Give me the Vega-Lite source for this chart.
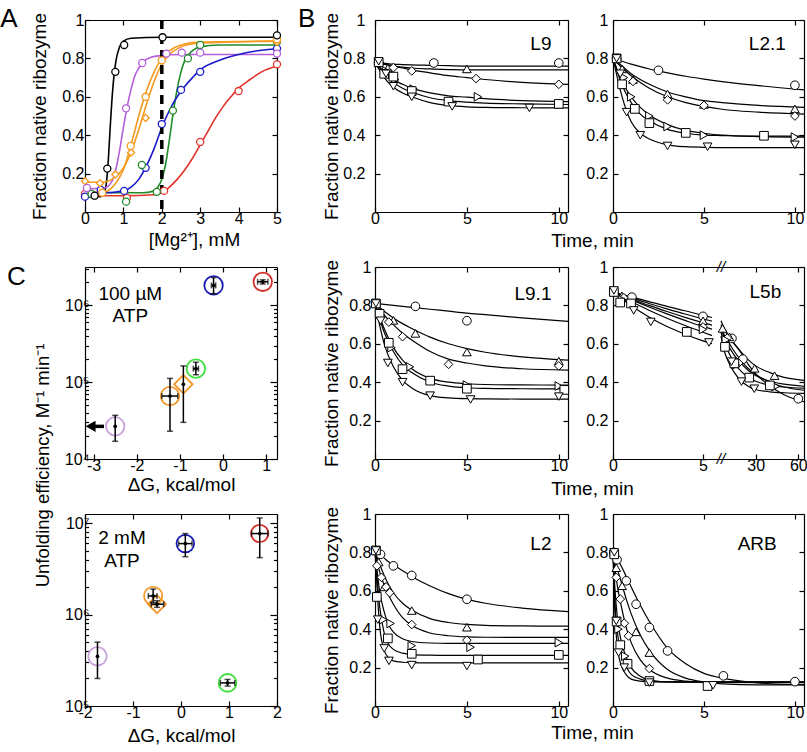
{
"$schema": "https://vega.github.io/schema/vega-lite/v6.json",
"padding": {"left": 0, "top": 6, "right": 0, "bottom": 0},
"datasets": {
"A_c": [
{"mg":0,"frac":0.08,"s":"black"},{"mg":0.4,"frac":0.08,"s":"black"},{"mg":0.5,"frac":0.1,"s":"black"},{"mg":0.55,"frac":0.14,"s":"black"},{"mg":0.6,"frac":0.25,"s":"black"},{"mg":0.65,"frac":0.42,"s":"black"},{"mg":0.7,"frac":0.58,"s":"black"},{"mg":0.75,"frac":0.7,"s":"black"},{"mg":0.8,"frac":0.78,"s":"black"},{"mg":0.9,"frac":0.86,"s":"black"},{"mg":1,"frac":0.89,"s":"black"},{"mg":1.2,"frac":0.905,"s":"black"},{"mg":2,"frac":0.91,"s":"black"},{"mg":5,"frac":0.91,"s":"black"},
{"mg":0,"frac":0.12,"s":"violet"},{"mg":0.5,"frac":0.125,"s":"violet"},{"mg":0.7,"frac":0.16,"s":"violet"},{"mg":0.8,"frac":0.22,"s":"violet"},{"mg":0.9,"frac":0.32,"s":"violet"},{"mg":1,"frac":0.44,"s":"violet"},{"mg":1.1,"frac":0.55,"s":"violet"},{"mg":1.2,"frac":0.64,"s":"violet"},{"mg":1.3,"frac":0.71,"s":"violet"},{"mg":1.4,"frac":0.75,"s":"violet"},{"mg":1.5,"frac":0.78,"s":"violet"},{"mg":1.7,"frac":0.805,"s":"violet"},{"mg":2,"frac":0.815,"s":"violet"},{"mg":2.5,"frac":0.82,"s":"violet"},{"mg":5,"frac":0.82,"s":"violet"},
{"mg":0,"frac":0.1,"s":"orangeC"},{"mg":0.5,"frac":0.105,"s":"orangeC"},{"mg":0.8,"frac":0.15,"s":"orangeC"},{"mg":1,"frac":0.22,"s":"orangeC"},{"mg":1.2,"frac":0.35,"s":"orangeC"},{"mg":1.4,"frac":0.5,"s":"orangeC"},{"mg":1.6,"frac":0.63,"s":"orangeC"},{"mg":1.8,"frac":0.73,"s":"orangeC"},{"mg":2,"frac":0.8,"s":"orangeC"},{"mg":2.2,"frac":0.84,"s":"orangeC"},{"mg":2.5,"frac":0.87,"s":"orangeC"},{"mg":3,"frac":0.885,"s":"orangeC"},{"mg":5,"frac":0.89,"s":"orangeC"},
{"mg":0,"frac":0.155,"s":"orangeD"},{"mg":0.4,"frac":0.155,"s":"orangeD"},{"mg":0.6,"frac":0.16,"s":"orangeD"},{"mg":0.8,"frac":0.185,"s":"orangeD"},{"mg":1,"frac":0.23,"s":"orangeD"},{"mg":1.2,"frac":0.31,"s":"orangeD"},{"mg":1.4,"frac":0.43,"s":"orangeD"},{"mg":1.6,"frac":0.56,"s":"orangeD"},{"mg":1.8,"frac":0.68,"s":"orangeD"},{"mg":2,"frac":0.77,"s":"orangeD"},{"mg":2.2,"frac":0.82,"s":"orangeD"},{"mg":2.5,"frac":0.86,"s":"orangeD"},{"mg":3,"frac":0.88,"s":"orangeD"},{"mg":5,"frac":0.89,"s":"orangeD"},
{"mg":0,"frac":0.1,"s":"green"},{"mg":1.5,"frac":0.1,"s":"green"},{"mg":1.8,"frac":0.11,"s":"green"},{"mg":1.9,"frac":0.13,"s":"green"},{"mg":2,"frac":0.17,"s":"green"},{"mg":2.1,"frac":0.25,"s":"green"},{"mg":2.2,"frac":0.38,"s":"green"},{"mg":2.3,"frac":0.52,"s":"green"},{"mg":2.4,"frac":0.64,"s":"green"},{"mg":2.5,"frac":0.73,"s":"green"},{"mg":2.6,"frac":0.79,"s":"green"},{"mg":2.8,"frac":0.84,"s":"green"},{"mg":3,"frac":0.86,"s":"green"},{"mg":3.5,"frac":0.87,"s":"green"},{"mg":5,"frac":0.87,"s":"green"},
{"mg":0,"frac":0.1,"s":"blue"},{"mg":0.5,"frac":0.1,"s":"blue"},{"mg":1,"frac":0.11,"s":"blue"},{"mg":1.2,"frac":0.13,"s":"blue"},{"mg":1.4,"frac":0.17,"s":"blue"},{"mg":1.6,"frac":0.24,"s":"blue"},{"mg":1.8,"frac":0.33,"s":"blue"},{"mg":2,"frac":0.44,"s":"blue"},{"mg":2.2,"frac":0.53,"s":"blue"},{"mg":2.4,"frac":0.6,"s":"blue"},{"mg":2.6,"frac":0.655,"s":"blue"},{"mg":2.8,"frac":0.7,"s":"blue"},{"mg":3,"frac":0.74,"s":"blue"},{"mg":3.5,"frac":0.79,"s":"blue"},{"mg":4,"frac":0.82,"s":"blue"},{"mg":4.5,"frac":0.84,"s":"blue"},{"mg":5,"frac":0.85,"s":"blue"},
{"mg":0,"frac":0.085,"s":"red"},{"mg":1,"frac":0.085,"s":"red"},{"mg":1.8,"frac":0.09,"s":"red"},{"mg":2,"frac":0.1,"s":"red"},{"mg":2.2,"frac":0.13,"s":"red"},{"mg":2.4,"frac":0.17,"s":"red"},{"mg":2.6,"frac":0.22,"s":"red"},{"mg":2.8,"frac":0.28,"s":"red"},{"mg":3,"frac":0.35,"s":"red"},{"mg":3.2,"frac":0.42,"s":"red"},{"mg":3.4,"frac":0.49,"s":"red"},{"mg":3.6,"frac":0.55,"s":"red"},{"mg":3.8,"frac":0.6,"s":"red"},{"mg":4,"frac":0.645,"s":"red"},{"mg":4.3,"frac":0.69,"s":"red"},{"mg":4.6,"frac":0.73,"s":"red"},{"mg":5,"frac":0.76,"s":"red"}
],
"A_p": [
{"mg":0,"frac":0.094,"s":"red"},{"mg":1.09,"frac":0.073,"s":"red"},{"mg":2.06,"frac":0.11,"s":"red"},{"mg":3,"frac":0.365,"s":"red"},{"mg":4,"frac":0.63,"s":"red"},{"mg":5,"frac":0.769,"s":"red"},
{"mg":0,"frac":0.08,"s":"blue"},{"mg":0.41,"frac":0.115,"s":"blue"},{"mg":1.02,"frac":0.11,"s":"blue"},{"mg":1.58,"frac":0.23,"s":"blue"},{"mg":2,"frac":0.458,"s":"blue"},{"mg":2.5,"frac":0.636,"s":"blue"},{"mg":3,"frac":0.73,"s":"blue"},{"mg":5,"frac":0.851,"s":"blue"},
{"mg":0.17,"frac":0.094,"s":"green"},{"mg":1.07,"frac":0.054,"s":"green"},{"mg":1.48,"frac":0.245,"s":"green"},{"mg":1.87,"frac":0.105,"s":"green"},{"mg":2.29,"frac":0.528,"s":"green"},{"mg":2.68,"frac":0.8,"s":"green"},{"mg":3,"frac":0.87,"s":"green"},{"mg":5,"frac":0.886,"s":"green"},
{"mg":0,"frac":0.16,"s":"orangeD"},{"mg":0.39,"frac":0.15,"s":"orangeD"},{"mg":0.79,"frac":0.195,"s":"orangeD"},{"mg":1.2,"frac":0.31,"s":"orangeD"},{"mg":1.58,"frac":0.49,"s":"orangeD"},{"mg":5,"frac":0.885,"s":"orangeD"},
{"mg":0.45,"frac":0.1,"s":"orangeC"},{"mg":1.19,"frac":0.344,"s":"orangeC"},{"mg":1.58,"frac":0.6,"s":"orangeC"},{"mg":2,"frac":0.79,"s":"orangeC"},{"mg":5,"frac":0.9,"s":"orangeC"},
{"mg":0.05,"frac":0.125,"s":"violet"},{"mg":1.07,"frac":0.54,"s":"violet"},{"mg":1.49,"frac":0.776,"s":"violet"},{"mg":2.12,"frac":0.825,"s":"violet"},{"mg":2.52,"frac":0.83,"s":"violet"},{"mg":3,"frac":0.83,"s":"violet"},{"mg":5,"frac":0.825,"s":"violet"},
{"mg":0.25,"frac":0.085,"s":"black"},{"mg":0.58,"frac":0.226,"s":"black"},{"mg":0.79,"frac":0.73,"s":"black"},{"mg":1.02,"frac":0.87,"s":"black"},{"mg":2.02,"frac":0.91,"s":"black"},{"mg":5,"frac":0.92,"s":"black"}
],
"A_dash": [{"mg":2}],
"L9_c": [
{"t":0,"f":0.78,"s":"c1"},{"t":0.5,"f":0.775,"s":"c1"},{"t":1,"f":0.77,"s":"c1"},{"t":1.5,"f":0.768,"s":"c1"},{"t":2,"f":0.766,"s":"c1"},{"t":3,"f":0.764,"s":"c1"},{"t":4,"f":0.762,"s":"c1"},{"t":5,"f":0.76,"s":"c1"},{"t":6,"f":0.76,"s":"c1"},{"t":8,"f":0.76,"s":"c1"},{"t":10.5,"f":0.76,"s":"c1"},
{"t":0,"f":0.78,"s":"c2"},{"t":0.5,"f":0.77,"s":"c2"},{"t":1,"f":0.76,"s":"c2"},{"t":1.5,"f":0.755,"s":"c2"},{"t":2,"f":0.75,"s":"c2"},{"t":3,"f":0.745,"s":"c2"},{"t":4,"f":0.742,"s":"c2"},{"t":5,"f":0.74,"s":"c2"},{"t":6,"f":0.74,"s":"c2"},{"t":8,"f":0.74,"s":"c2"},{"t":10.5,"f":0.74,"s":"c2"},
{"t":0,"f":0.78,"s":"c3"},{"t":0.5,"f":0.77,"s":"c3"},{"t":1,"f":0.76,"s":"c3"},{"t":1.5,"f":0.75,"s":"c3"},{"t":2,"f":0.74,"s":"c3"},{"t":3,"f":0.725,"s":"c3"},{"t":4,"f":0.71,"s":"c3"},{"t":5,"f":0.7,"s":"c3"},{"t":6,"f":0.69,"s":"c3"},{"t":8,"f":0.675,"s":"c3"},{"t":10.5,"f":0.665,"s":"c3"},
{"t":0,"f":0.78,"s":"c4"},{"t":0.5,"f":0.73,"s":"c4"},{"t":1,"f":0.69,"s":"c4"},{"t":1.5,"f":0.665,"s":"c4"},{"t":2,"f":0.645,"s":"c4"},{"t":3,"f":0.62,"s":"c4"},{"t":4,"f":0.605,"s":"c4"},{"t":5,"f":0.598,"s":"c4"},{"t":6,"f":0.59,"s":"c4"},{"t":8,"f":0.58,"s":"c4"},{"t":10.5,"f":0.575,"s":"c4"},
{"t":0,"f":0.78,"s":"c5"},{"t":0.5,"f":0.72,"s":"c5"},{"t":1,"f":0.675,"s":"c5"},{"t":1.5,"f":0.645,"s":"c5"},{"t":2,"f":0.625,"s":"c5"},{"t":3,"f":0.595,"s":"c5"},{"t":4,"f":0.58,"s":"c5"},{"t":5,"f":0.572,"s":"c5"},{"t":6,"f":0.567,"s":"c5"},{"t":8,"f":0.563,"s":"c5"},{"t":10.5,"f":0.56,"s":"c5"},
{"t":0,"f":0.78,"s":"c6"},{"t":0.5,"f":0.7,"s":"c6"},{"t":1,"f":0.65,"s":"c6"},{"t":1.5,"f":0.62,"s":"c6"},{"t":2,"f":0.6,"s":"c6"},{"t":3,"f":0.57,"s":"c6"},{"t":4,"f":0.555,"s":"c6"},{"t":5,"f":0.548,"s":"c6"},{"t":6,"f":0.545,"s":"c6"},{"t":8,"f":0.543,"s":"c6"},{"t":10.5,"f":0.542,"s":"c6"}
],
"L9_p": [
{"t":0.2,"f":0.78,"s":"c1"},{"t":3.2,"f":0.776,"s":"c1"},{"t":10,"f":0.776,"s":"c1"},
{"t":0.2,"f":0.78,"s":"c2"},{"t":0.7,"f":0.75,"s":"c2"},{"t":5,"f":0.745,"s":"c2"},
{"t":0.2,"f":0.78,"s":"c3"},{"t":1,"f":0.752,"s":"c3"},{"t":2,"f":0.735,"s":"c3"},{"t":5.5,"f":0.695,"s":"c3"},{"t":10,"f":0.665,"s":"c3"},
{"t":0.2,"f":0.78,"s":"c4"},{"t":0.6,"f":0.735,"s":"c4"},{"t":1.1,"f":0.69,"s":"c4"},{"t":2.1,"f":0.64,"s":"c4"},{"t":5.6,"f":0.6,"s":"c4"},
{"t":0.2,"f":0.78,"s":"c5"},{"t":0.5,"f":0.72,"s":"c5"},{"t":1,"f":0.705,"s":"c5"},{"t":2,"f":0.63,"s":"c5"},{"t":4,"f":0.575,"s":"c5"},{"t":10,"f":0.563,"s":"c5"},
{"t":0.2,"f":0.785,"s":"c6"},{"t":0.6,"f":0.72,"s":"c6"},{"t":1,"f":0.655,"s":"c6"},{"t":2,"f":0.6,"s":"c6"},{"t":4.2,"f":0.55,"s":"c6"},{"t":8.4,"f":0.542,"s":"c6"}
],
"L21_c": [
{"t":0,"f":0.8,"s":"c1"},{"t":0.5,"f":0.785,"s":"c1"},{"t":1,"f":0.77,"s":"c1"},{"t":1.5,"f":0.757,"s":"c1"},{"t":2,"f":0.745,"s":"c1"},{"t":3,"f":0.725,"s":"c1"},{"t":4,"f":0.707,"s":"c1"},{"t":5,"f":0.692,"s":"c1"},{"t":6,"f":0.679,"s":"c1"},{"t":8,"f":0.658,"s":"c1"},{"t":10.5,"f":0.636,"s":"c1"},
{"t":0,"f":0.8,"s":"c2"},{"t":0.5,"f":0.76,"s":"c2"},{"t":1,"f":0.72,"s":"c2"},{"t":1.5,"f":0.69,"s":"c2"},{"t":2,"f":0.665,"s":"c2"},{"t":3,"f":0.625,"s":"c2"},{"t":4,"f":0.6,"s":"c2"},{"t":5,"f":0.58,"s":"c2"},{"t":6,"f":0.57,"s":"c2"},{"t":8,"f":0.555,"s":"c2"},{"t":10.5,"f":0.545,"s":"c2"},
{"t":0,"f":0.8,"s":"c3"},{"t":0.5,"f":0.75,"s":"c3"},{"t":1,"f":0.71,"s":"c3"},{"t":1.5,"f":0.675,"s":"c3"},{"t":2,"f":0.645,"s":"c3"},{"t":3,"f":0.6,"s":"c3"},{"t":4,"f":0.57,"s":"c3"},{"t":5,"f":0.55,"s":"c3"},{"t":6,"f":0.535,"s":"c3"},{"t":8,"f":0.52,"s":"c3"},{"t":10.5,"f":0.51,"s":"c3"},
{"t":0,"f":0.8,"s":"c4"},{"t":0.5,"f":0.68,"s":"c4"},{"t":1,"f":0.6,"s":"c4"},{"t":1.5,"f":0.545,"s":"c4"},{"t":2,"f":0.505,"s":"c4"},{"t":3,"f":0.455,"s":"c4"},{"t":4,"f":0.425,"s":"c4"},{"t":5,"f":0.41,"s":"c4"},{"t":6,"f":0.4,"s":"c4"},{"t":8,"f":0.393,"s":"c4"},{"t":10.5,"f":0.39,"s":"c4"},
{"t":0,"f":0.8,"s":"c5"},{"t":0.5,"f":0.66,"s":"c5"},{"t":1,"f":0.57,"s":"c5"},{"t":1.5,"f":0.51,"s":"c5"},{"t":2,"f":0.475,"s":"c5"},{"t":3,"f":0.43,"s":"c5"},{"t":4,"f":0.41,"s":"c5"},{"t":5,"f":0.4,"s":"c5"},{"t":6,"f":0.398,"s":"c5"},{"t":8,"f":0.395,"s":"c5"},{"t":10.5,"f":0.395,"s":"c5"},
{"t":0,"f":0.8,"s":"c6"},{"t":0.5,"f":0.6,"s":"c6"},{"t":1,"f":0.47,"s":"c6"},{"t":1.5,"f":0.41,"s":"c6"},{"t":2,"f":0.38,"s":"c6"},{"t":3,"f":0.35,"s":"c6"},{"t":4,"f":0.34,"s":"c6"},{"t":5,"f":0.337,"s":"c6"},{"t":6,"f":0.335,"s":"c6"},{"t":8,"f":0.335,"s":"c6"},{"t":10.5,"f":0.335,"s":"c6"}
],
"L21_p": [
{"t":0.2,"f":0.8,"s":"c1"},{"t":2.5,"f":0.738,"s":"c1"},{"t":10,"f":0.66,"s":"c1"},
{"t":0.2,"f":0.8,"s":"c2"},{"t":0.5,"f":0.745,"s":"c2"},{"t":1.1,"f":0.69,"s":"c2"},{"t":3,"f":0.615,"s":"c2"},{"t":5,"f":0.56,"s":"c2"},{"t":10,"f":0.537,"s":"c2"},
{"t":0.2,"f":0.8,"s":"c3"},{"t":1.1,"f":0.68,"s":"c3"},{"t":3,"f":0.584,"s":"c3"},{"t":5,"f":0.555,"s":"c3"},{"t":10,"f":0.5,"s":"c3"},
{"t":0.2,"f":0.8,"s":"c4"},{"t":0.6,"f":0.7,"s":"c4"},{"t":1,"f":0.6,"s":"c4"},{"t":2,"f":0.5,"s":"c4"},{"t":3,"f":0.445,"s":"c4"},{"t":5,"f":0.4,"s":"c4"},{"t":10,"f":0.39,"s":"c4"},
{"t":0.2,"f":0.8,"s":"c5"},{"t":0.5,"f":0.665,"s":"c5"},{"t":1.2,"f":0.537,"s":"c5"},{"t":2,"f":0.463,"s":"c5"},{"t":4,"f":0.412,"s":"c5"},{"t":8.3,"f":0.397,"s":"c5"},
{"t":0.2,"f":0.8,"s":"c6"},{"t":0.4,"f":0.72,"s":"c6"},{"t":0.75,"f":0.52,"s":"c6"},{"t":1.5,"f":0.4,"s":"c6"},{"t":3,"f":0.344,"s":"c6"},{"t":5.2,"f":0.34,"s":"c6"},{"t":10,"f":0.35,"s":"c6"}
],
"L91_c": [
{"t":0,"f":0.81,"s":"c1"},{"t":0.5,"f":0.805,"s":"c1"},{"t":1,"f":0.8,"s":"c1"},{"t":1.5,"f":0.795,"s":"c1"},{"t":2,"f":0.79,"s":"c1"},{"t":3,"f":0.78,"s":"c1"},{"t":4,"f":0.77,"s":"c1"},{"t":5,"f":0.76,"s":"c1"},{"t":6,"f":0.752,"s":"c1"},{"t":8,"f":0.735,"s":"c1"},{"t":10.5,"f":0.717,"s":"c1"},
{"t":0,"f":0.81,"s":"c2"},{"t":0.5,"f":0.77,"s":"c2"},{"t":1,"f":0.735,"s":"c2"},{"t":1.5,"f":0.705,"s":"c2"},{"t":2,"f":0.68,"s":"c2"},{"t":3,"f":0.635,"s":"c2"},{"t":4,"f":0.6,"s":"c2"},{"t":5,"f":0.575,"s":"c2"},{"t":6,"f":0.556,"s":"c2"},{"t":8,"f":0.532,"s":"c2"},{"t":10.5,"f":0.515,"s":"c2"},
{"t":0,"f":0.81,"s":"c3"},{"t":0.5,"f":0.75,"s":"c3"},{"t":1,"f":0.7,"s":"c3"},{"t":1.5,"f":0.655,"s":"c3"},{"t":2,"f":0.62,"s":"c3"},{"t":3,"f":0.56,"s":"c3"},{"t":4,"f":0.52,"s":"c3"},{"t":5,"f":0.5,"s":"c3"},{"t":6,"f":0.485,"s":"c3"},{"t":8,"f":0.47,"s":"c3"},{"t":10.5,"f":0.463,"s":"c3"},
{"t":0,"f":0.81,"s":"c4"},{"t":0.5,"f":0.68,"s":"c4"},{"t":1,"f":0.58,"s":"c4"},{"t":1.5,"f":0.515,"s":"c4"},{"t":2,"f":0.47,"s":"c4"},{"t":3,"f":0.42,"s":"c4"},{"t":4,"f":0.4,"s":"c4"},{"t":5,"f":0.392,"s":"c4"},{"t":6,"f":0.388,"s":"c4"},{"t":8,"f":0.386,"s":"c4"},{"t":10.5,"f":0.385,"s":"c4"},
{"t":0,"f":0.81,"s":"c5"},{"t":0.5,"f":0.66,"s":"c5"},{"t":1,"f":0.56,"s":"c5"},{"t":1.5,"f":0.49,"s":"c5"},{"t":2,"f":0.45,"s":"c5"},{"t":3,"f":0.4,"s":"c5"},{"t":4,"f":0.38,"s":"c5"},{"t":5,"f":0.371,"s":"c5"},{"t":6,"f":0.368,"s":"c5"},{"t":8,"f":0.366,"s":"c5"},{"t":10.5,"f":0.365,"s":"c5"},
{"t":0,"f":0.81,"s":"c6"},{"t":0.5,"f":0.6,"s":"c6"},{"t":1,"f":0.48,"s":"c6"},{"t":1.5,"f":0.41,"s":"c6"},{"t":2,"f":0.37,"s":"c6"},{"t":3,"f":0.33,"s":"c6"},{"t":4,"f":0.318,"s":"c6"},{"t":5,"f":0.314,"s":"c6"},{"t":6,"f":0.313,"s":"c6"},{"t":8,"f":0.312,"s":"c6"},{"t":10.5,"f":0.312,"s":"c6"}
],
"L91_p": [
{"t":0.05,"f":0.81,"s":"c1"},{"t":2.2,"f":0.795,"s":"c1"},{"t":5,"f":0.72,"s":"c1"},
{"t":0.05,"f":0.81,"s":"c2"},{"t":1,"f":0.722,"s":"c2"},{"t":2.2,"f":0.654,"s":"c2"},{"t":5,"f":0.557,"s":"c2"},{"t":10,"f":0.51,"s":"c2"},
{"t":0.05,"f":0.81,"s":"c3"},{"t":0.75,"f":0.713,"s":"c3"},{"t":1.5,"f":0.637,"s":"c3"},{"t":4,"f":0.493,"s":"c3"},{"t":10,"f":0.485,"s":"c3"},
{"t":0.05,"f":0.81,"s":"c4"},{"t":0.9,"f":0.58,"s":"c4"},{"t":1.9,"f":0.48,"s":"c4"},{"t":5,"f":0.385,"s":"c4"},{"t":10,"f":0.38,"s":"c4"},
{"t":0.05,"f":0.81,"s":"c5"},{"t":0.25,"f":0.756,"s":"c5"},{"t":0.75,"f":0.605,"s":"c5"},{"t":1.5,"f":0.468,"s":"c5"},{"t":3,"f":0.408,"s":"c5"},{"t":5,"f":0.366,"s":"c5"},{"t":10.3,"f":0.36,"s":"c5"},
{"t":0.05,"f":0.81,"s":"c6"},{"t":0.3,"f":0.72,"s":"c6"},{"t":0.7,"f":0.5,"s":"c6"},{"t":1.5,"f":0.4,"s":"c6"},{"t":3,"f":0.33,"s":"c6"},{"t":5.2,"f":0.31,"s":"c6"},{"t":10,"f":0.325,"s":"c6"}
],
"L5b_c": [
{"t":0,"f":0.87,"s":"c1","seg":1},{"t":1,"f":0.845,"s":"c1","seg":1},{"t":2,"f":0.82,"s":"c1","seg":1},{"t":3,"f":0.795,"s":"c1","seg":1},{"t":4,"f":0.772,"s":"c1","seg":1},{"t":5,"f":0.748,"s":"c1","seg":1},{"t":5.5,"f":0.737,"s":"c1","seg":1},
{"t":0,"f":0.87,"s":"c2","seg":1},{"t":1,"f":0.84,"s":"c2","seg":1},{"t":2,"f":0.81,"s":"c2","seg":1},{"t":3,"f":0.782,"s":"c2","seg":1},{"t":4,"f":0.755,"s":"c2","seg":1},{"t":5,"f":0.73,"s":"c2","seg":1},{"t":5.5,"f":0.718,"s":"c2","seg":1},
{"t":0,"f":0.87,"s":"c3","seg":1},{"t":1,"f":0.835,"s":"c3","seg":1},{"t":2,"f":0.8,"s":"c3","seg":1},{"t":3,"f":0.768,"s":"c3","seg":1},{"t":4,"f":0.738,"s":"c3","seg":1},{"t":5,"f":0.71,"s":"c3","seg":1},{"t":5.5,"f":0.697,"s":"c3","seg":1},
{"t":0,"f":0.87,"s":"c4","seg":1},{"t":1,"f":0.83,"s":"c4","seg":1},{"t":2,"f":0.792,"s":"c4","seg":1},{"t":3,"f":0.756,"s":"c4","seg":1},{"t":4,"f":0.722,"s":"c4","seg":1},{"t":5,"f":0.69,"s":"c4","seg":1},{"t":5.5,"f":0.676,"s":"c4","seg":1},
{"t":0,"f":0.87,"s":"c5","seg":1},{"t":1,"f":0.82,"s":"c5","seg":1},{"t":2,"f":0.775,"s":"c5","seg":1},{"t":3,"f":0.733,"s":"c5","seg":1},{"t":4,"f":0.695,"s":"c5","seg":1},{"t":5,"f":0.66,"s":"c5","seg":1},{"t":5.5,"f":0.643,"s":"c5","seg":1},
{"t":0,"f":0.87,"s":"c6","seg":1},{"t":1,"f":0.8,"s":"c6","seg":1},{"t":2,"f":0.74,"s":"c6","seg":1},{"t":3,"f":0.69,"s":"c6","seg":1},{"t":4,"f":0.65,"s":"c6","seg":1},{"t":5,"f":0.615,"s":"c6","seg":1},{"t":5.5,"f":0.6,"s":"c6","seg":1},
{"t":5.6,"f":0.7,"s":"c1","seg":2},{"t":8,"f":0.67,"s":"c1","seg":2},{"t":10,"f":0.65,"s":"c1","seg":2},{"t":15,"f":0.6,"s":"c1","seg":2},{"t":20,"f":0.55,"s":"c1","seg":2},{"t":25,"f":0.49,"s":"c1","seg":2},{"t":30,"f":0.445,"s":"c1","seg":2},{"t":40,"f":0.38,"s":"c1","seg":2},{"t":50,"f":0.335,"s":"c1","seg":2},{"t":64,"f":0.298,"s":"c1","seg":2},
{"t":5.6,"f":0.72,"s":"c2","seg":2},{"t":8,"f":0.68,"s":"c2","seg":2},{"t":10,"f":0.655,"s":"c2","seg":2},{"t":15,"f":0.6,"s":"c2","seg":2},{"t":20,"f":0.555,"s":"c2","seg":2},{"t":25,"f":0.515,"s":"c2","seg":2},{"t":30,"f":0.485,"s":"c2","seg":2},{"t":40,"f":0.45,"s":"c2","seg":2},{"t":50,"f":0.425,"s":"c2","seg":2},{"t":64,"f":0.41,"s":"c2","seg":2},
{"t":5.6,"f":0.69,"s":"c3","seg":2},{"t":8,"f":0.645,"s":"c3","seg":2},{"t":10,"f":0.62,"s":"c3","seg":2},{"t":15,"f":0.56,"s":"c3","seg":2},{"t":20,"f":0.51,"s":"c3","seg":2},{"t":25,"f":0.47,"s":"c3","seg":2},{"t":30,"f":0.44,"s":"c3","seg":2},{"t":40,"f":0.4,"s":"c3","seg":2},{"t":50,"f":0.375,"s":"c3","seg":2},{"t":64,"f":0.358,"s":"c3","seg":2},
{"t":5.6,"f":0.68,"s":"c4","seg":2},{"t":8,"f":0.63,"s":"c4","seg":2},{"t":10,"f":0.6,"s":"c4","seg":2},{"t":15,"f":0.54,"s":"c4","seg":2},{"t":20,"f":0.495,"s":"c4","seg":2},{"t":25,"f":0.46,"s":"c4","seg":2},{"t":30,"f":0.435,"s":"c4","seg":2},{"t":40,"f":0.405,"s":"c4","seg":2},{"t":50,"f":0.39,"s":"c4","seg":2},{"t":64,"f":0.379,"s":"c4","seg":2},
{"t":5.6,"f":0.66,"s":"c5","seg":2},{"t":8,"f":0.6,"s":"c5","seg":2},{"t":10,"f":0.57,"s":"c5","seg":2},{"t":15,"f":0.5,"s":"c5","seg":2},{"t":20,"f":0.455,"s":"c5","seg":2},{"t":25,"f":0.425,"s":"c5","seg":2},{"t":30,"f":0.405,"s":"c5","seg":2},{"t":40,"f":0.385,"s":"c5","seg":2},{"t":50,"f":0.375,"s":"c5","seg":2},{"t":64,"f":0.369,"s":"c5","seg":2},
{"t":5.6,"f":0.64,"s":"c6","seg":2},{"t":8,"f":0.56,"s":"c6","seg":2},{"t":10,"f":0.52,"s":"c6","seg":2},{"t":15,"f":0.45,"s":"c6","seg":2},{"t":20,"f":0.405,"s":"c6","seg":2},{"t":25,"f":0.378,"s":"c6","seg":2},{"t":30,"f":0.362,"s":"c6","seg":2},{"t":40,"f":0.35,"s":"c6","seg":2},{"t":50,"f":0.345,"s":"c6","seg":2},{"t":64,"f":0.342,"s":"c6","seg":2}
],
"L5b_p": [
{"t":0.05,"f":0.87,"s":"c1"},{"t":1.05,"f":0.843,"s":"c1"},{"t":5,"f":0.743,"s":"c1"},{"t":13.3,"f":0.628,"s":"c1"},{"t":21,"f":0.52,"s":"c1"},{"t":60,"f":0.314,"s":"c1"},
{"t":0.05,"f":0.87,"s":"c2"},{"t":0.5,"f":0.85,"s":"c2"},{"t":5,"f":0.72,"s":"c2"},{"t":6.7,"f":0.68,"s":"c2"},{"t":11.5,"f":0.636,"s":"c2"},{"t":29.3,"f":0.472,"s":"c2"},{"t":43.3,"f":0.434,"s":"c2"},
{"t":0.05,"f":0.87,"s":"c3"},{"t":0.6,"f":0.84,"s":"c3"},{"t":5,"f":0.688,"s":"c3"},{"t":10,"f":0.63,"s":"c3"},{"t":18,"f":0.5,"s":"c3"},
{"t":0.05,"f":0.87,"s":"c4"},{"t":0.5,"f":0.83,"s":"c4"},{"t":5,"f":0.675,"s":"c4"},{"t":9,"f":0.62,"s":"c4"},{"t":16,"f":0.49,"s":"c4"},{"t":44,"f":0.378,"s":"c4"},
{"t":0.05,"f":0.87,"s":"c5"},{"t":0.4,"f":0.815,"s":"c5"},{"t":1,"f":0.81,"s":"c5"},{"t":4.1,"f":0.662,"s":"c5"},{"t":8.4,"f":0.584,"s":"c5"},{"t":15,"f":0.498,"s":"c5"},{"t":25.5,"f":0.424,"s":"c5"},{"t":40,"f":0.383,"s":"c5"},
{"t":0.05,"f":0.878,"s":"c6"},{"t":1.15,"f":0.774,"s":"c6"},{"t":2.1,"f":0.714,"s":"c6"},{"t":5.33,"f":0.607,"s":"c6"},{"t":13,"f":0.507,"s":"c6"},{"t":20,"f":0.403,"s":"c6"},{"t":29,"f":0.366,"s":"c6"}
],
"L2_c": [
{"t":0,"f":0.81,"s":"c1"},{"t":0.25,"f":0.79,"s":"c1"},{"t":0.5,"f":0.77,"s":"c1"},{"t":0.75,"f":0.75,"s":"c1"},{"t":1,"f":0.735,"s":"c1"},{"t":1.5,"f":0.705,"s":"c1"},{"t":2,"f":0.675,"s":"c1"},{"t":3,"f":0.625,"s":"c1"},{"t":4,"f":0.585,"s":"c1"},{"t":5,"f":0.555,"s":"c1"},{"t":6,"f":0.535,"s":"c1"},{"t":8,"f":0.51,"s":"c1"},{"t":10.5,"f":0.492,"s":"c1"},
{"t":0,"f":0.81,"s":"c2"},{"t":0.25,"f":0.74,"s":"c2"},{"t":0.5,"f":0.68,"s":"c2"},{"t":0.75,"f":0.63,"s":"c2"},{"t":1,"f":0.59,"s":"c2"},{"t":1.5,"f":0.535,"s":"c2"},{"t":2,"f":0.5,"s":"c2"},{"t":3,"f":0.455,"s":"c2"},{"t":4,"f":0.435,"s":"c2"},{"t":5,"f":0.425,"s":"c2"},{"t":6,"f":0.42,"s":"c2"},{"t":8,"f":0.417,"s":"c2"},{"t":10.5,"f":0.416,"s":"c2"},
{"t":0,"f":0.81,"s":"c3"},{"t":0.25,"f":0.7,"s":"c3"},{"t":0.5,"f":0.63,"s":"c3"},{"t":0.75,"f":0.575,"s":"c3"},{"t":1,"f":0.53,"s":"c3"},{"t":1.5,"f":0.46,"s":"c3"},{"t":2,"f":0.42,"s":"c3"},{"t":3,"f":0.38,"s":"c3"},{"t":4,"f":0.366,"s":"c3"},{"t":5,"f":0.36,"s":"c3"},{"t":6,"f":0.358,"s":"c3"},{"t":8,"f":0.357,"s":"c3"},{"t":10.5,"f":0.357,"s":"c3"},
{"t":0,"f":0.81,"s":"c4"},{"t":0.25,"f":0.6,"s":"c4"},{"t":0.5,"f":0.49,"s":"c4"},{"t":0.75,"f":0.42,"s":"c4"},{"t":1,"f":0.385,"s":"c4"},{"t":1.5,"f":0.35,"s":"c4"},{"t":2,"f":0.336,"s":"c4"},{"t":3,"f":0.328,"s":"c4"},{"t":4,"f":0.326,"s":"c4"},{"t":5,"f":0.326,"s":"c4"},{"t":6,"f":0.326,"s":"c4"},{"t":8,"f":0.326,"s":"c4"},{"t":10.5,"f":0.326,"s":"c4"},
{"t":0,"f":0.81,"s":"c5"},{"t":0.25,"f":0.52,"s":"c5"},{"t":0.5,"f":0.38,"s":"c5"},{"t":0.75,"f":0.32,"s":"c5"},{"t":1,"f":0.295,"s":"c5"},{"t":1.5,"f":0.275,"s":"c5"},{"t":2,"f":0.268,"s":"c5"},{"t":3,"f":0.265,"s":"c5"},{"t":4,"f":0.264,"s":"c5"},{"t":5,"f":0.264,"s":"c5"},{"t":6,"f":0.264,"s":"c5"},{"t":8,"f":0.264,"s":"c5"},{"t":10.5,"f":0.264,"s":"c5"},
{"t":0,"f":0.81,"s":"c6"},{"t":0.25,"f":0.42,"s":"c6"},{"t":0.5,"f":0.29,"s":"c6"},{"t":0.75,"f":0.25,"s":"c6"},{"t":1,"f":0.235,"s":"c6"},{"t":1.5,"f":0.228,"s":"c6"},{"t":2,"f":0.226,"s":"c6"},{"t":3,"f":0.225,"s":"c6"},{"t":4,"f":0.225,"s":"c6"},{"t":5,"f":0.225,"s":"c6"},{"t":6,"f":0.225,"s":"c6"},{"t":8,"f":0.225,"s":"c6"},{"t":10.5,"f":0.225,"s":"c6"}
],
"L2_p": [
{"t":0.05,"f":0.81,"s":"c1"},{"t":0.3,"f":0.79,"s":"c1"},{"t":1,"f":0.73,"s":"c1"},{"t":2,"f":0.68,"s":"c1"},{"t":5,"f":0.556,"s":"c1"},
{"t":0.05,"f":0.81,"s":"c2"},{"t":0.2,"f":0.75,"s":"c2"},{"t":0.5,"f":0.62,"s":"c2"},{"t":2,"f":0.497,"s":"c2"},{"t":5,"f":0.41,"s":"c2"},
{"t":0.1,"f":0.73,"s":"c3"},{"t":0.35,"f":0.67,"s":"c3"},{"t":0.6,"f":0.62,"s":"c3"},{"t":0.8,"f":0.59,"s":"c3"},{"t":2,"f":0.424,"s":"c3"},{"t":5,"f":0.343,"s":"c3"},
{"t":0.05,"f":0.81,"s":"c4"},{"t":0.45,"f":0.45,"s":"c4"},{"t":0.85,"f":0.43,"s":"c4"},{"t":2,"f":0.314,"s":"c4"},{"t":5.2,"f":0.306,"s":"c4"},{"t":10,"f":0.33,"s":"c4"},
{"t":0.05,"f":0.81,"s":"c5"},{"t":0.1,"f":0.568,"s":"c5"},{"t":0.7,"f":0.352,"s":"c5"},{"t":2,"f":0.272,"s":"c5"},{"t":5.6,"f":0.242,"s":"c5"},{"t":10,"f":0.266,"s":"c5"},
{"t":0.05,"f":0.81,"s":"c6"},{"t":0.15,"f":0.45,"s":"c6"},{"t":0.5,"f":0.3,"s":"c6"},{"t":0.76,"f":0.235,"s":"c6"},{"t":2,"f":0.213,"s":"c6"},{"t":5,"f":0.208,"s":"c6"}
],
"ARB_c": [
{"t":0,"f":0.8,"s":"c1"},{"t":0.1,"f":0.79,"s":"c1"},{"t":0.25,"f":0.765,"s":"c1"},{"t":0.5,"f":0.72,"s":"c1"},{"t":0.75,"f":0.67,"s":"c1"},{"t":1,"f":0.62,"s":"c1"},{"t":1.5,"f":0.525,"s":"c1"},{"t":2,"f":0.44,"s":"c1"},{"t":3,"f":0.3,"s":"c1"},{"t":4,"f":0.22,"s":"c1"},{"t":5,"f":0.17,"s":"c1"},{"t":6,"f":0.145,"s":"c1"},{"t":8,"f":0.12,"s":"c1"},{"t":10.5,"f":0.11,"s":"c1"},
{"t":0,"f":0.8,"s":"c2"},{"t":0.1,"f":0.76,"s":"c2"},{"t":0.25,"f":0.71,"s":"c2"},{"t":0.5,"f":0.63,"s":"c2"},{"t":0.75,"f":0.55,"s":"c2"},{"t":1,"f":0.48,"s":"c2"},{"t":1.5,"f":0.37,"s":"c2"},{"t":2,"f":0.29,"s":"c2"},{"t":3,"f":0.19,"s":"c2"},{"t":4,"f":0.145,"s":"c2"},{"t":5,"f":0.125,"s":"c2"},{"t":6,"f":0.115,"s":"c2"},{"t":8,"f":0.11,"s":"c2"},{"t":10.5,"f":0.11,"s":"c2"},
{"t":0,"f":0.8,"s":"c3"},{"t":0.1,"f":0.72,"s":"c3"},{"t":0.25,"f":0.62,"s":"c3"},{"t":0.5,"f":0.5,"s":"c3"},{"t":0.75,"f":0.4,"s":"c3"},{"t":1,"f":0.33,"s":"c3"},{"t":1.5,"f":0.24,"s":"c3"},{"t":2,"f":0.19,"s":"c3"},{"t":3,"f":0.145,"s":"c3"},{"t":4,"f":0.13,"s":"c3"},{"t":5,"f":0.125,"s":"c3"},{"t":6,"f":0.123,"s":"c3"},{"t":8,"f":0.122,"s":"c3"},{"t":10.5,"f":0.122,"s":"c3"},
{"t":0,"f":0.8,"s":"c4"},{"t":0.1,"f":0.62,"s":"c4"},{"t":0.25,"f":0.45,"s":"c4"},{"t":0.5,"f":0.32,"s":"c4"},{"t":0.75,"f":0.25,"s":"c4"},{"t":1,"f":0.2,"s":"c4"},{"t":1.5,"f":0.155,"s":"c4"},{"t":2,"f":0.135,"s":"c4"},{"t":3,"f":0.125,"s":"c4"},{"t":4,"f":0.124,"s":"c4"},{"t":5,"f":0.124,"s":"c4"},{"t":6,"f":0.124,"s":"c4"},{"t":8,"f":0.124,"s":"c4"},{"t":10.5,"f":0.124,"s":"c4"},
{"t":0,"f":0.8,"s":"c5"},{"t":0.1,"f":0.55,"s":"c5"},{"t":0.25,"f":0.38,"s":"c5"},{"t":0.5,"f":0.27,"s":"c5"},{"t":0.75,"f":0.2,"s":"c5"},{"t":1,"f":0.165,"s":"c5"},{"t":1.5,"f":0.14,"s":"c5"},{"t":2,"f":0.13,"s":"c5"},{"t":3,"f":0.126,"s":"c5"},{"t":4,"f":0.126,"s":"c5"},{"t":5,"f":0.126,"s":"c5"},{"t":6,"f":0.126,"s":"c5"},{"t":8,"f":0.126,"s":"c5"},{"t":10.5,"f":0.126,"s":"c5"},
{"t":0,"f":0.8,"s":"c6"},{"t":0.1,"f":0.5,"s":"c6"},{"t":0.25,"f":0.3,"s":"c6"},{"t":0.5,"f":0.2,"s":"c6"},{"t":0.75,"f":0.16,"s":"c6"},{"t":1,"f":0.14,"s":"c6"},{"t":1.5,"f":0.13,"s":"c6"},{"t":2,"f":0.126,"s":"c6"},{"t":3,"f":0.125,"s":"c6"},{"t":4,"f":0.125,"s":"c6"},{"t":5,"f":0.125,"s":"c6"},{"t":6,"f":0.125,"s":"c6"},{"t":8,"f":0.125,"s":"c6"},{"t":10.5,"f":0.125,"s":"c6"}
],
"ARB_p": [
{"t":0.05,"f":0.8,"s":"c1"},{"t":0.22,"f":0.762,"s":"c1"},{"t":0.73,"f":0.652,"s":"c1"},{"t":1.27,"f":0.53,"s":"c1"},{"t":2,"f":0.409,"s":"c1"},{"t":3,"f":0.287,"s":"c1"},{"t":6.07,"f":0.157,"s":"c1"},{"t":10,"f":0.127,"s":"c1"},
{"t":0.05,"f":0.8,"s":"c2"},{"t":0.18,"f":0.72,"s":"c2"},{"t":0.5,"f":0.626,"s":"c2"},{"t":1.27,"f":0.386,"s":"c2"},{"t":2,"f":0.278,"s":"c2"},
{"t":0.05,"f":0.8,"s":"c3"},{"t":0.18,"f":0.67,"s":"c3"},{"t":0.4,"f":0.557,"s":"c3"},{"t":0.62,"f":0.431,"s":"c3"},{"t":0.85,"f":0.365,"s":"c3"},{"t":2,"f":0.195,"s":"c3"},
{"t":0.05,"f":0.8,"s":"c4"},{"t":0.3,"f":0.4,"s":"c4"},{"t":0.67,"f":0.26,"s":"c4"},{"t":2,"f":0.13,"s":"c4"},
{"t":0.07,"f":0.79,"s":"c5"},{"t":0.2,"f":0.44,"s":"c5"},{"t":0.4,"f":0.317,"s":"c5"},{"t":0.8,"f":0.22,"s":"c5"},{"t":2,"f":0.13,"s":"c5"},{"t":5.2,"f":0.104,"s":"c5"},
{"t":0.07,"f":0.8,"s":"c6"},{"t":0.18,"f":0.443,"s":"c6"},{"t":0.31,"f":0.278,"s":"c6"},{"t":0.62,"f":0.2,"s":"c6"},{"t":2,"f":0.122,"s":"c6"},{"t":5.5,"f":0.108,"s":"c6"}
],
"C1": [
{"g":"violet","dg":-2.5,"e":26600,"elo":17000,"ehi":37000},
{"g":"orangeC","dg":-1.23,"e":66000,"elo":23000,"ehi":112000,"dlo":-1.42,"dhi":-1.05},
{"g":"orangeD","dg":-0.92,"e":94000,"elo":30000,"ehi":163000},
{"g":"green","dg":-0.63,"e":150000,"elo":125000,"ehi":182000,"dlo":-0.69,"dhi":-0.57},
{"g":"blue","dg":-0.22,"e":1820000,"elo":1420000,"ehi":2300000,"dlo":-0.27,"dhi":-0.17},
{"g":"red","dg":0.92,"e":2030000,"elo":1900000,"ehi":2150000,"dlo":0.8,"dhi":1.04}
],
"C2": [
{"g":"violet","dg":-1.74,"e":350000,"elo":200000,"ehi":500000},
{"g":"orangeC","dg":-0.58,"e":1600000,"elo":1350000,"ehi":1900000,"dlo":-0.68,"dhi":-0.5},
{"g":"orangeD","dg":-0.5,"e":1300000,"elo":1200000,"ehi":1420000,"dlo":-0.62,"dhi":-0.36},
{"g":"blue","dg":0.09,"e":5980000,"elo":4300000,"ehi":7700000,"dlo":-0.05,"dhi":0.23},
{"g":"red","dg":1.64,"e":7700000,"elo":4200000,"ehi":11400000,"dlo":1.47,"dhi":1.81},
{"g":"green","dg":0.97,"e":179000,"elo":165000,"ehi":195000,"dlo":0.82,"dhi":1.12}
]
},
"columns": 3,
"bounds": "flush",
"align": "each",
"spacing": {"row": 55, "column": 45},
"resolve": {"scale": {"color": "independent", "stroke": "independent", "shape": "independent", "size": "independent"}},
"concat": [
{
"width": 245, "height": 192,
"layer": [
{"data": {"name": "A_c"}, "mark": {"type": "line", "strokeWidth": 1.6, "interpolate": "monotone"},
 "encoding": {
  "x": {"field": "mg", "type": "quantitative", "scale": {"domain": [0, 5], "range": [0, 192], "nice": false}, "axis": {"values": [0,1,2,3,4,5], "format": "d", "title": "[Mg²⁺], mM", "titleX": 109, "titleY": 33, "titleBaseline": "alphabetic"}},
  "y": {"field": "frac", "type": "quantitative", "scale": {"domain": [0, 1], "nice": false}, "axis": {"values": [0.2,0.4,0.6,0.8,1], "format": ".1~f", "labelPadding": 6, "title": "Fraction native ribozyme", "titleX": -40, "titleAlign": "center", "titleBaseline": "alphabetic"}},
  "color": {"field": "s", "type": "nominal", "scale": {"domain": ["black","violet","orangeC","orangeD","green","blue","red"], "range": ["#000000","#b45fdc","#f49a1e","#f49a1e","#1f8c2a","#1a1ac8","#e2332b"]}, "legend": null}
 }},
{"data": {"name": "A_dash"}, "mark": {"type": "rule", "color": "black", "strokeWidth": 3.5, "strokeDash": [9, 6]},
 "encoding": {"x": {"field": "mg", "type": "quantitative", "axis": null}}},
{"data": {"name": "A_p"}, "mark": {"type": "point", "filled": true, "fill": "white", "strokeWidth": 1.3, "size": 50, "opacity": 1},
 "encoding": {
  "x": {"field": "mg", "type": "quantitative", "axis": null},
  "y": {"field": "frac", "type": "quantitative", "axis": null},
  "stroke": {"field": "s", "type": "nominal", "scale": {"domain": ["black","violet","orangeC","orangeD","green","blue","red"], "range": ["#000000","#b45fdc","#f49a1e","#f49a1e","#1f8c2a","#1a1ac8","#e2332b"]}, "legend": null},
  "shape": {"field": "s", "type": "nominal", "scale": {"domain": ["black","violet","orangeC","orangeD","green","blue","red"], "range": ["circle","circle","circle","diamond","circle","circle","circle"]}, "legend": null}
 }},
{"data": {"values": [{}]}, "mark": {"type": "text", "text": "A", "align": "left", "baseline": "alphabetic", "fontSize": 26},
 "encoding": {"x": {"datum": -2.21, "type": "quantitative", "axis": null}, "y": {"datum": 0.9635, "type": "quantitative", "axis": null}}},
{"data": {"name": "A_p"}, "mark": {"type": "point", "opacity": 0},
 "encoding": {
  "x": {"field": "mg", "type": "quantitative", "axis": {"orient": "top", "labels": false, "title": null, "values": [0,1,2,3,4,5]}},
  "y": {"field": "frac", "type": "quantitative", "axis": {"orient": "right", "labels": false, "title": null, "offset": -53, "values": [0.2,0.4,0.6,0.8,1]}}
 }}
],
"resolve": {"axis": {"x": "independent", "y": "independent"}}
},
{
"width": 193, "height": 192,
"layer": [
{"data": {"name": "L9_c"}, "mark": {"type": "line", "color": "black", "strokeWidth": 1.2, "interpolate": "monotone"},
 "encoding": {
  "x": {"field": "t", "type": "quantitative", "scale": {"domain": [0, 10.5], "nice": false}, "axis": {"values": [0,5,10], "title": null}},
  "y": {"field": "f", "type": "quantitative", "scale": {"domain": [0, 1], "nice": false}, "axis": {"values": [0.2,0.4,0.6,0.8,1], "format": ".1~f", "labelPadding": 15, "title": "Fraction native ribozyme", "titleX": -38, "titleAlign": "center", "titleBaseline": "alphabetic"}},
  "detail": {"field": "s"}
 }},
{"data": {"name": "L9_p"}, "mark": {"type": "point", "filled": true, "fill": "white", "stroke": "black", "strokeWidth": 1, "size": 75, "opacity": 1},
 "encoding": {
  "x": {"field": "t", "type": "quantitative", "axis": null},
  "y": {"field": "f", "type": "quantitative", "axis": null},
  "shape": {"field": "s", "type": "nominal", "scale": {"domain": ["c1","c2","c3","c4","c5","c6"], "range": ["circle","triangle-up","diamond","triangle-right","square","triangle-down"]}, "legend": null}
 }},
{"data": {"values": [{}]}, "mark": {"type": "text", "text": "L9", "align": "right", "baseline": "alphabetic", "fontSize": 19},
 "encoding": {"x": {"datum": 9.6, "type": "quantitative", "axis": null}, "y": {"datum": 0.843, "type": "quantitative", "axis": null}}},
{"data": {"values": [{}]}, "mark": {"type": "text", "text": "B", "align": "left", "baseline": "alphabetic", "fontSize": 26},
 "encoding": {"x": {"datum": -4.19, "type": "quantitative", "axis": null}, "y": {"datum": 0.9635, "type": "quantitative", "axis": null}}},
{"data": {"name": "L9_c"}, "mark": {"type": "point", "opacity": 0},
 "encoding": {
  "x": {"field": "t", "type": "quantitative", "axis": {"orient": "top", "labels": false, "title": null, "values": [0,5,10]}},
  "y": {"field": "f", "type": "quantitative", "axis": {"orient": "right", "labels": false, "title": null, "values": [0.2,0.4,0.6,0.8,1]}}
 }}
],
"resolve": {"axis": {"x": "independent", "y": "independent"}}
},
{
"width": 191, "height": 192,
"layer": [
{"data": {"name": "L21_c"}, "mark": {"type": "line", "color": "black", "strokeWidth": 1.2, "interpolate": "monotone"},
 "encoding": {
  "x": {"field": "t", "type": "quantitative", "scale": {"domain": [0, 10.5], "nice": false}, "axis": {"values": [0,5,10], "title": "Time, min", "titleX": -21, "titleY": 34, "titleBaseline": "alphabetic"}},
  "y": {"field": "f", "type": "quantitative", "scale": {"domain": [0, 1], "nice": false}, "axis": {"values": [0.2,0.4,0.6,0.8,1], "format": ".1~f", "labelPadding": 10, "title": null}},
  "detail": {"field": "s"}
 }},
{"data": {"name": "L21_p"}, "mark": {"type": "point", "filled": true, "fill": "white", "stroke": "black", "strokeWidth": 1, "size": 75, "opacity": 1},
 "encoding": {
  "x": {"field": "t", "type": "quantitative", "axis": null},
  "y": {"field": "f", "type": "quantitative", "axis": null},
  "shape": {"field": "s", "type": "nominal", "scale": {"domain": ["c1","c2","c3","c4","c5","c6"], "range": ["circle","triangle-up","diamond","triangle-right","square","triangle-down"]}, "legend": null}
 }},
{"data": {"values": [{}]}, "mark": {"type": "text", "text": "L2.1", "align": "right", "baseline": "alphabetic", "fontSize": 19},
 "encoding": {"x": {"datum": 9.5, "type": "quantitative", "axis": null}, "y": {"datum": 0.843, "type": "quantitative", "axis": null}}},
{"data": {"name": "L21_c"}, "mark": {"type": "point", "opacity": 0},
 "encoding": {
  "x": {"field": "t", "type": "quantitative", "axis": {"orient": "top", "labels": false, "title": null, "values": [0,5,10]}},
  "y": {"field": "f", "type": "quantitative", "axis": {"orient": "right", "labels": false, "title": null, "values": [0.2,0.4,0.6,0.8,1]}}
 }}
],
"resolve": {"axis": {"x": "independent", "y": "independent"}}
},
{
"width": 245, "height": 192,
"layer": [
{"data": {"name": "C1"}, "mark": {"type": "point", "filled": false, "strokeWidth": 1.8, "opacity": 1},
 "encoding": {
  "x": {"field": "dg", "type": "quantitative", "scale": {"domain": [-3.2, 1.25], "range": [0, 192], "nice": false, "zero": false}, "axis": {"values": [-3,-2,-1,0,1], "labelExpr": "datum.value < 0 ? '-' + abs(datum.value) : '' + datum.value", "title": "ΔG, kcal/mol", "titleX": 96, "titleY": 31, "titleBaseline": "alphabetic"}},
  "y": {"field": "e", "type": "quantitative", "scale": {"type": "log", "domain": [10000, 3160000], "nice": false}, "axis": {"values": [10000,20000,30000,40000,50000,60000,70000,80000,90000,100000,200000,300000,400000,500000,600000,700000,800000,900000,1000000,2000000,3000000], "labelExpr": "datum.value == 10000 ? '10⁴' : datum.value == 100000 ? '10⁵' : datum.value == 1000000 ? '10⁶' : ''", "labelPadding": 3, "tickSize": {"condition": {"test": "datum.value == 10000 || datum.value == 100000 || datum.value == 1000000", "value": -7}, "value": -3.5}, "title": null}},
  "stroke": {"field": "g", "type": "nominal", "scale": {"domain": ["violet","orangeC","orangeD","green","blue","red"], "range": ["#c9a3dc","#f29a2e","#f29a2e","#3fe03f","#1a1ab4","#d4302a"]}, "legend": null},
  "shape": {"field": "g", "type": "nominal", "scale": {"domain": ["violet","orangeC","orangeD","green","blue","red"], "range": ["circle","circle","diamond","circle","circle","circle"]}, "legend": null},
  "size": {"field": "g", "type": "nominal", "scale": {"domain": ["violet","orangeC","orangeD","green","blue","red"], "range": [340,340,430,280,300,300]}, "legend": null}
 }},
{"data": {"name": "C1"}, "mark": {"type": "rule", "color": "black", "strokeWidth": 1.5},
 "encoding": {"x": {"field": "dg", "type": "quantitative", "axis": null}, "y": {"field": "elo", "type": "quantitative", "axis": null}, "y2": {"field": "ehi"}}},
{"data": {"name": "C1"}, "mark": {"type": "tick", "orient": "horizontal", "color": "black", "size": 6, "thickness": 1.5},
 "encoding": {"x": {"field": "dg", "type": "quantitative", "axis": null}, "y": {"field": "elo", "type": "quantitative", "axis": null}}},
{"data": {"name": "C1"}, "mark": {"type": "tick", "orient": "horizontal", "color": "black", "size": 6, "thickness": 1.5},
 "encoding": {"x": {"field": "dg", "type": "quantitative", "axis": null}, "y": {"field": "ehi", "type": "quantitative", "axis": null}}},
{"data": {"name": "C1"}, "transform": [{"filter": "isValid(datum.dlo)"}], "mark": {"type": "rule", "color": "black", "strokeWidth": 1.5},
 "encoding": {"x": {"field": "dlo", "type": "quantitative", "axis": null}, "x2": {"field": "dhi"}, "y": {"field": "e", "type": "quantitative", "axis": null}}},
{"data": {"name": "C1"}, "transform": [{"filter": "isValid(datum.dlo)"}], "mark": {"type": "tick", "orient": "vertical", "color": "black", "size": 6, "thickness": 1.5},
 "encoding": {"x": {"field": "dlo", "type": "quantitative", "axis": null}, "y": {"field": "e", "type": "quantitative", "axis": null}}},
{"data": {"name": "C1"}, "transform": [{"filter": "isValid(datum.dlo)"}], "mark": {"type": "tick", "orient": "vertical", "color": "black", "size": 6, "thickness": 1.5},
 "encoding": {"x": {"field": "dhi", "type": "quantitative", "axis": null}, "y": {"field": "e", "type": "quantitative", "axis": null}}},
{"data": {"name": "C1"}, "mark": {"type": "point", "filled": true, "color": "black", "size": 14, "opacity": 1},
 "encoding": {"x": {"field": "dg", "type": "quantitative", "axis": null}, "y": {"field": "e", "type": "quantitative", "axis": null}}},
{"data": {"values": [{}]}, "mark": {"type": "rule", "color": "black", "strokeWidth": 3.5},
 "encoding": {"x": {"datum": -2.76, "type": "quantitative", "axis": null}, "x2": {"datum": -2.98}, "y": {"datum": 26600, "type": "quantitative", "axis": null}}},
{"data": {"values": [{}]}, "mark": {"type": "point", "shape": "triangle-left", "filled": true, "color": "black", "size": 130, "opacity": 1},
 "encoding": {"x": {"datum": -3.07, "type": "quantitative", "axis": null}, "y": {"datum": 26600, "type": "quantitative", "axis": null}}},
{"data": {"values": [{}]}, "mark": {"type": "text", "text": ["100 µM", "ATP"], "align": "center", "baseline": "alphabetic", "fontSize": 19, "lineHeight": 22},
 "encoding": {"x": {"datum": -2.15, "type": "quantitative", "axis": null}, "y": {"datum": 1170000, "type": "quantitative", "axis": null}}},
{"data": {"values": [{}]}, "mark": {"type": "text", "text": "C", "align": "left", "baseline": "alphabetic", "fontSize": 26},
 "encoding": {"x": {"datum": -5.01, "type": "quantitative", "axis": null}, "y": {"datum": 1840000, "type": "quantitative", "axis": null}}},
{"data": {"name": "C1"}, "mark": {"type": "point", "opacity": 0},
 "encoding": {
  "x": {"field": "dg", "type": "quantitative", "axis": {"orient": "top", "labels": false, "title": null, "values": [-3,-2,-1,0,1]}},
  "y": {"field": "e", "type": "quantitative", "axis": {"orient": "right", "labels": false, "title": null, "offset": -53, "values": [10000,20000,30000,40000,50000,60000,70000,80000,90000,100000,200000,300000,400000,500000,600000,700000,800000,900000,1000000,2000000,3000000], "tickSize": {"condition": {"test": "datum.value == 10000 || datum.value == 100000 || datum.value == 1000000", "value": -7}, "value": -3.5}}}
 }}
],
"resolve": {"axis": {"x": "independent", "y": "independent"}}
},
{
"width": 193, "height": 192,
"layer": [
{"data": {"name": "L91_c"}, "mark": {"type": "line", "color": "black", "strokeWidth": 1.2, "interpolate": "monotone"},
 "encoding": {
  "x": {"field": "t", "type": "quantitative", "scale": {"domain": [0, 10.5], "nice": false}, "axis": {"values": [0,5,10], "title": null}},
  "y": {"field": "f", "type": "quantitative", "scale": {"domain": [0, 1], "nice": false}, "axis": {"values": [0.2,0.4,0.6,0.8,1], "format": ".1~f", "labelPadding": 9, "title": "Fraction native ribozyme", "titleX": -38, "titleAlign": "center", "titleBaseline": "alphabetic"}},
  "detail": {"field": "s"}
 }},
{"data": {"name": "L91_p"}, "mark": {"type": "point", "filled": true, "fill": "white", "stroke": "black", "strokeWidth": 1, "size": 75, "opacity": 1},
 "encoding": {
  "x": {"field": "t", "type": "quantitative", "axis": null},
  "y": {"field": "f", "type": "quantitative", "axis": null},
  "shape": {"field": "s", "type": "nominal", "scale": {"domain": ["c1","c2","c3","c4","c5","c6"], "range": ["circle","triangle-up","diamond","triangle-right","square","triangle-down"]}, "legend": null}
 }},
{"data": {"values": [{}]}, "mark": {"type": "text", "text": "L9.1", "align": "right", "baseline": "alphabetic", "fontSize": 19},
 "encoding": {"x": {"datum": 9.6, "type": "quantitative", "axis": null}, "y": {"datum": 0.83, "type": "quantitative", "axis": null}}},
{"data": {"name": "L91_c"}, "mark": {"type": "point", "opacity": 0},
 "encoding": {
  "x": {"field": "t", "type": "quantitative", "axis": {"orient": "top", "labels": false, "title": null, "values": [0,5,10]}},
  "y": {"field": "f", "type": "quantitative", "axis": {"orient": "right", "labels": false, "title": null, "values": [0.2,0.4,0.6,0.8,1]}}
 }}
],
"resolve": {"axis": {"x": "independent", "y": "independent"}}
},
{
"width": 191, "height": 192,
"layer": [
{"data": {"name": "L5b_c"}, "mark": {"type": "line", "color": "black", "strokeWidth": 1.2, "interpolate": "monotone"},
 "encoding": {
  "x": {"field": "t", "type": "quantitative", "scale": {"domain": [0, 5.5, 5.6, 64], "range": [0, 99, 108, 191], "nice": false}, "axis": {"values": [0,5,30,60], "title": "Time, min", "titleX": -21, "titleY": 35, "titleBaseline": "alphabetic"}},
  "y": {"field": "f", "type": "quantitative", "scale": {"domain": [0, 1], "nice": false}, "axis": {"values": [0.2,0.4,0.6,0.8,1], "format": ".1~f", "labelPadding": 10, "title": null}},
  "detail": [{"field": "s"}, {"field": "seg"}]
 }},
{"data": {"name": "L5b_p"}, "mark": {"type": "point", "filled": true, "fill": "white", "stroke": "black", "strokeWidth": 1, "size": 75, "opacity": 1},
 "encoding": {
  "x": {"field": "t", "type": "quantitative", "axis": null},
  "y": {"field": "f", "type": "quantitative", "axis": null},
  "shape": {"field": "s", "type": "nominal", "scale": {"domain": ["c1","c2","c3","c4","c5","c6"], "range": ["circle","triangle-up","diamond","triangle-right","square","triangle-down"]}, "legend": null}
 }},
{"data": {"values": [{}]}, "mark": {"type": "text", "text": "L5b", "align": "right", "baseline": "alphabetic", "fontSize": 19},
 "encoding": {"x": {"datum": 48, "type": "quantitative", "axis": null}, "y": {"datum": 0.84, "type": "quantitative", "axis": null}}},
{"data": {"values": [{"f": 1}, {"f": 0}]}, "mark": {"type": "text", "text": "//", "align": "center", "baseline": "middle", "fontSize": 15, "fontStyle": "italic"},
 "encoding": {"x": {"datum": 5.6, "type": "quantitative", "axis": null}, "y": {"field": "f", "type": "quantitative", "axis": null}}},
{"data": {"name": "L5b_c"}, "mark": {"type": "point", "opacity": 0},
 "encoding": {
  "x": {"field": "t", "type": "quantitative", "axis": {"orient": "top", "labels": false, "title": null, "values": [0,5,30,60]}},
  "y": {"field": "f", "type": "quantitative", "axis": {"orient": "right", "labels": false, "title": null, "values": [0.2,0.4,0.6,0.8,1]}}
 }}
],
"resolve": {"axis": {"x": "independent", "y": "independent"}}
},
{
"width": 245, "height": 192,
"layer": [
{"data": {"name": "C2"}, "mark": {"type": "point", "filled": false, "strokeWidth": 1.8, "opacity": 1},
 "encoding": {
  "x": {"field": "dg", "type": "quantitative", "scale": {"domain": [-2, 2], "range": [0, 192], "nice": false, "zero": false}, "axis": {"values": [-2,-1,0,1,2], "labelExpr": "datum.value < 0 ? '-' + abs(datum.value) : '' + datum.value", "title": "ΔG, kcal/mol", "titleX": 96, "titleY": 35, "titleBaseline": "alphabetic"}},
  "y": {"field": "e", "type": "quantitative", "scale": {"type": "log", "domain": [100000, 12600000], "nice": false}, "axis": {"values": [100000,200000,300000,400000,500000,600000,700000,800000,900000,1000000,2000000,3000000,4000000,5000000,6000000,7000000,8000000,9000000,10000000], "labelExpr": "datum.value == 100000 ? '10⁵' : datum.value == 1000000 ? '10⁶' : datum.value == 10000000 ? '10⁷' : ''", "labelPadding": 3, "tickSize": {"condition": {"test": "datum.value == 100000 || datum.value == 1000000 || datum.value == 10000000", "value": -7}, "value": -3.5}, "title": "Unfolding efficiency, M⁻¹ min⁻¹", "titleFontSize": 18.5, "titleX": -37, "titleY": -49, "titleAlign": "center", "titleAngle": -90, "titleBaseline": "alphabetic"}},
  "stroke": {"field": "g", "type": "nominal", "scale": {"domain": ["violet","orangeC","orangeD","green","blue","red"], "range": ["#c9a3dc","#f29a2e","#f29a2e","#3fe03f","#1a1ab4","#d4302a"]}, "legend": null},
  "shape": {"field": "g", "type": "nominal", "scale": {"domain": ["violet","orangeC","orangeD","green","blue","red"], "range": ["circle","circle","diamond","circle","circle","circle"]}, "legend": null},
  "size": {"field": "g", "type": "nominal", "scale": {"domain": ["violet","orangeC","orangeD","green","blue","red"], "range": [340,300,340,300,300,300]}, "legend": null}
 }},
{"data": {"name": "C2"}, "mark": {"type": "rule", "color": "black", "strokeWidth": 1.5},
 "encoding": {"x": {"field": "dg", "type": "quantitative", "axis": null}, "y": {"field": "elo", "type": "quantitative", "axis": null}, "y2": {"field": "ehi"}}},
{"data": {"name": "C2"}, "mark": {"type": "tick", "orient": "horizontal", "color": "black", "size": 6, "thickness": 1.5},
 "encoding": {"x": {"field": "dg", "type": "quantitative", "axis": null}, "y": {"field": "elo", "type": "quantitative", "axis": null}}},
{"data": {"name": "C2"}, "mark": {"type": "tick", "orient": "horizontal", "color": "black", "size": 6, "thickness": 1.5},
 "encoding": {"x": {"field": "dg", "type": "quantitative", "axis": null}, "y": {"field": "ehi", "type": "quantitative", "axis": null}}},
{"data": {"name": "C2"}, "transform": [{"filter": "isValid(datum.dlo)"}], "mark": {"type": "rule", "color": "black", "strokeWidth": 1.5},
 "encoding": {"x": {"field": "dlo", "type": "quantitative", "axis": null}, "x2": {"field": "dhi"}, "y": {"field": "e", "type": "quantitative", "axis": null}}},
{"data": {"name": "C2"}, "transform": [{"filter": "isValid(datum.dlo)"}], "mark": {"type": "tick", "orient": "vertical", "color": "black", "size": 6, "thickness": 1.5},
 "encoding": {"x": {"field": "dlo", "type": "quantitative", "axis": null}, "y": {"field": "e", "type": "quantitative", "axis": null}}},
{"data": {"name": "C2"}, "transform": [{"filter": "isValid(datum.dlo)"}], "mark": {"type": "tick", "orient": "vertical", "color": "black", "size": 6, "thickness": 1.5},
 "encoding": {"x": {"field": "dhi", "type": "quantitative", "axis": null}, "y": {"field": "e", "type": "quantitative", "axis": null}}},
{"data": {"name": "C2"}, "mark": {"type": "point", "filled": true, "color": "black", "size": 14, "opacity": 1},
 "encoding": {"x": {"field": "dg", "type": "quantitative", "axis": null}, "y": {"field": "e", "type": "quantitative", "axis": null}}},
{"data": {"values": [{}]}, "mark": {"type": "text", "text": ["2 mM", "ATP"], "align": "center", "baseline": "alphabetic", "fontSize": 19, "lineHeight": 23},
 "encoding": {"x": {"datum": -1.23, "type": "quantitative", "axis": null}, "y": {"datum": 5900000, "type": "quantitative", "axis": null}}},
{"data": {"name": "C2"}, "mark": {"type": "point", "opacity": 0},
 "encoding": {
  "x": {"field": "dg", "type": "quantitative", "axis": {"orient": "top", "labels": false, "title": null, "values": [-2,-1,0,1,2]}},
  "y": {"field": "e", "type": "quantitative", "axis": {"orient": "right", "labels": false, "title": null, "offset": -53, "values": [100000,200000,300000,400000,500000,600000,700000,800000,900000,1000000,2000000,3000000,4000000,5000000,6000000,7000000,8000000,9000000,10000000], "tickSize": {"condition": {"test": "datum.value == 100000 || datum.value == 1000000 || datum.value == 10000000", "value": -7}, "value": -3.5}}}
 }}
],
"resolve": {"axis": {"x": "independent", "y": "independent"}}
},
{
"width": 193, "height": 192,
"layer": [
{"data": {"name": "L2_c"}, "mark": {"type": "line", "color": "black", "strokeWidth": 1.2, "interpolate": "monotone"},
 "encoding": {
  "x": {"field": "t", "type": "quantitative", "scale": {"domain": [0, 10.5], "nice": false}, "axis": {"values": [0,5,10], "title": null}},
  "y": {"field": "f", "type": "quantitative", "scale": {"domain": [0, 1], "nice": false}, "axis": {"values": [0.2,0.4,0.6,0.8,1], "format": ".1~f", "labelPadding": 9, "title": "Fraction native ribozyme", "titleX": -38, "titleAlign": "center", "titleBaseline": "alphabetic"}},
  "detail": {"field": "s"}
 }},
{"data": {"name": "L2_p"}, "mark": {"type": "point", "filled": true, "fill": "white", "stroke": "black", "strokeWidth": 1, "size": 75, "opacity": 1},
 "encoding": {
  "x": {"field": "t", "type": "quantitative", "axis": null},
  "y": {"field": "f", "type": "quantitative", "axis": null},
  "shape": {"field": "s", "type": "nominal", "scale": {"domain": ["c1","c2","c3","c4","c5","c6"], "range": ["circle","triangle-up","diamond","triangle-right","square","triangle-down"]}, "legend": null}
 }},
{"data": {"values": [{}]}, "mark": {"type": "text", "text": "L2", "align": "right", "baseline": "alphabetic", "fontSize": 19},
 "encoding": {"x": {"datum": 9.6, "type": "quantitative", "axis": null}, "y": {"datum": 0.81, "type": "quantitative", "axis": null}}},
{"data": {"name": "L2_c"}, "mark": {"type": "point", "opacity": 0},
 "encoding": {
  "x": {"field": "t", "type": "quantitative", "axis": {"orient": "top", "labels": false, "title": null, "values": [0,5,10]}},
  "y": {"field": "f", "type": "quantitative", "axis": {"orient": "right", "labels": false, "title": null, "values": [0.2,0.4,0.6,0.8,1]}}
 }}
],
"resolve": {"axis": {"x": "independent", "y": "independent"}}
},
{
"width": 191, "height": 192,
"layer": [
{"data": {"name": "ARB_c"}, "mark": {"type": "line", "color": "black", "strokeWidth": 1.2, "interpolate": "monotone"},
 "encoding": {
  "x": {"field": "t", "type": "quantitative", "scale": {"domain": [0, 10.5], "nice": false}, "axis": {"values": [0,5,10], "title": "Time, min", "titleX": -21, "titleY": 32, "titleBaseline": "alphabetic"}},
  "y": {"field": "f", "type": "quantitative", "scale": {"domain": [0, 1], "nice": false}, "axis": {"values": [0.2,0.4,0.6,0.8,1], "format": ".1~f", "labelPadding": 10, "title": null}},
  "detail": {"field": "s"}
 }},
{"data": {"name": "ARB_p"}, "mark": {"type": "point", "filled": true, "fill": "white", "stroke": "black", "strokeWidth": 1, "size": 75, "opacity": 1},
 "encoding": {
  "x": {"field": "t", "type": "quantitative", "axis": null},
  "y": {"field": "f", "type": "quantitative", "axis": null},
  "shape": {"field": "s", "type": "nominal", "scale": {"domain": ["c1","c2","c3","c4","c5","c6"], "range": ["circle","triangle-up","diamond","triangle-right","square","triangle-down"]}, "legend": null}
 }},
{"data": {"values": [{}]}, "mark": {"type": "text", "text": "ARB", "align": "right", "baseline": "alphabetic", "fontSize": 19},
 "encoding": {"x": {"datum": 9.0, "type": "quantitative", "axis": null}, "y": {"datum": 0.81, "type": "quantitative", "axis": null}}},
{"data": {"name": "ARB_c"}, "mark": {"type": "point", "opacity": 0},
 "encoding": {
  "x": {"field": "t", "type": "quantitative", "axis": {"orient": "top", "labels": false, "title": null, "values": [0,5,10]}},
  "y": {"field": "f", "type": "quantitative", "axis": {"orient": "right", "labels": false, "title": null, "values": [0.2,0.4,0.6,0.8,1]}}
 }}
],
"resolve": {"axis": {"x": "independent", "y": "independent"}}
}
],
"config": {
"font": "Liberation Sans",
"view": {"stroke": null},
"axis": {"grid": false, "minExtent": 0, "domainColor": "black", "domainWidth": 1.2, "tickColor": "black", "tickWidth": 1.2, "tickSize": -5, "labelFontSize": 16, "labelColor": "black", "titleFontSize": 19, "titleFontWeight": "normal", "titleColor": "black", "labelFlush": false, "labelOverlap": false},
"axisX": {"labelPadding": 3},
"axisY": {"labelPadding": 5}
}
}
